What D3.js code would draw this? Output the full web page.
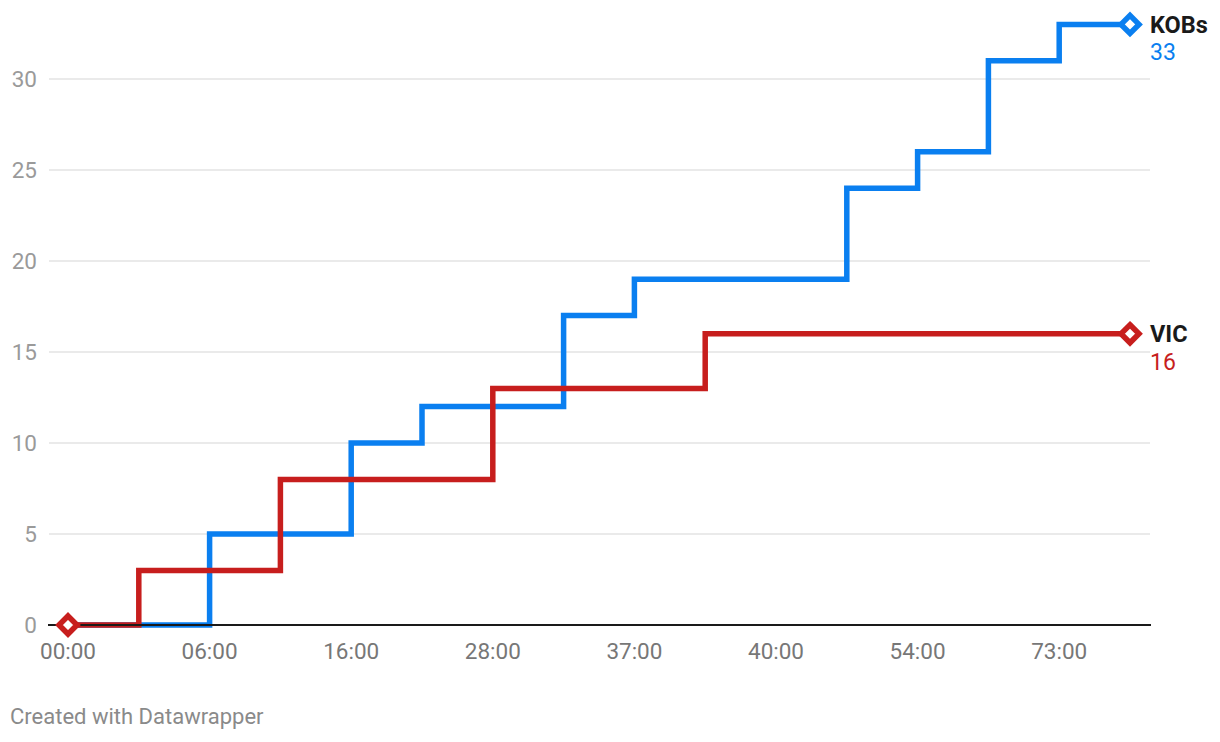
<!DOCTYPE html>
<html><head><meta charset="utf-8">
<script src="https://cdn.jsdelivr.net/npm/d3@7"></script>
<style>
body{margin:0;background:#fff;font-family:Roboto,"Noto Sans",sans-serif;}
svg{display:block}
</style></head>
<body>
<svg id="c" width="1220" height="742"></svg>
<script>
const tickLabels = ["00:00","","06:00","","16:00","","28:00","","37:00","","40:00","","54:00","","73:00",""];
const kobs = [0,0,5,5,10,12,12,17,19,19,19,24,26,31,33,33];
const vic  = [0,3,3,8,8,8,13,13,13,16,16,16,16,16,16,16];
const seriesNames = ["KOBs","VIC"];
const seriesColors = ["#0a7ff0","#c71e1d"];
const yTicks = [0,5,10,15,20,25,30];

const svg = d3.select("#c");
const x = d3.scalePoint().domain(d3.range(tickLabels.length)).range([68,1130]);
const y = d3.scaleLinear().domain([0,30]).range([625,79]);

svg.append("g").selectAll("line").data(yTicks.filter(d=>d>0)).join("line")
  .attr("x1",49).attr("x2",1150).attr("y1",d=>y(d)).attr("y2",d=>y(d))
  .attr("stroke","#e3e3e3").attr("stroke-width",1.5);

svg.append("g").selectAll("text").data(yTicks).join("text")
  .attr("x",37).attr("y",d=>y(d)).attr("dy","0.35em").attr("text-anchor","end")
  .attr("fill","#9a9a9a").attr("font-size",22.5).text(d=>d);

svg.append("g").selectAll("text").data(d3.range(tickLabels.length).filter(i=>tickLabels[i])).join("text")
  .attr("x",i=>x(i)).attr("y",659).attr("text-anchor","middle")
  .attr("fill","#777").attr("font-size",22.5).text(i=>tickLabels[i]);

const line = d3.line().x((d,i)=>x(i)).y(d=>y(d)).curve(d3.curveStepAfter);
const data = [kobs, vic];

data.forEach((s,k)=>{
  svg.append("path").datum(s).attr("d",line).attr("fill","none")
    .attr("stroke",seriesColors[k]).attr("stroke-width",5.5).attr("stroke-linejoin","miter");
});

svg.append("line").attr("x1",48).attr("x2",1151).attr("y1",y(0)).attr("y2",y(0))
  .attr("stroke","#1a1a1a").attr("stroke-width",2);

function diamond(cx,cy,color){
  const r=9;
  svg.append("path").attr("d",`M${cx},${cy-r}L${cx+r},${cy}L${cx},${cy+r}L${cx-r},${cy}Z`)
    .attr("fill","#fff").attr("stroke",color).attr("stroke-width",5.5).attr("stroke-linejoin","miter");
}
diamond(x(0),y(vic[0]),seriesColors[1]);
data.forEach((s,k)=>{
  const last = s.length-1;
  diamond(x(last),y(s[last]),seriesColors[k]);
  svg.append("text").attr("x",1150).attr("y",y(s[last])).attr("dy","0.35em")
    .attr("font-size",23.5).attr("font-weight","bold").attr("fill","#1a1a1a").text(seriesNames[k]);
  svg.append("text").attr("x",1150).attr("y",y(s[last])+28).attr("dy","0.35em")
    .attr("font-size",23).attr("fill",seriesColors[k]).text(s[last]);
});

svg.append("text").attr("x",10).attr("y",724).attr("font-size",22).attr("fill","#8a8a8a")
  .text("Created with Datawrapper");
</script>
</body></html>
